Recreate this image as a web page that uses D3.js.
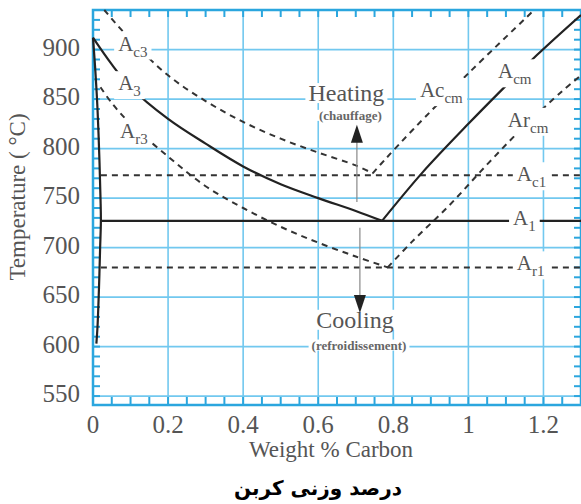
<!DOCTYPE html>
<html>
<head>
<meta charset="utf-8">
<script src="https://cdn.jsdelivr.net/npm/d3@7"></script>
<style>
  html, body { margin: 0; padding: 0; background: #fff; }
  svg { display: block; }
  text { font-family: "Liberation Serif", "Times New Roman", serif; fill: #555; }
</style>
</head>
<body>
<div id="chart"></div>
<script>
"use strict";

// --- data (weight % carbon, temperature in C) ---
const xTicks = [0, 0.2, 0.4, 0.6, 0.8, 1, 1.2]
const yTicks = [550, 600, 650, 700, 750, 800, 850, 900]

const alphaLine = [[0, 912], [0.006, 880], [0.012, 840], [0.017, 790], [0.02, 750],
  [0.021, 727], [0.019, 700], [0.016, 660], [0.012, 620], [0.009, 603]]
const a3Line = [[0, 912], [0.05, 885], [0.1, 862], [0.2, 830], [0.3, 805], [0.4, 782],
  [0.5, 764], [0.6, 750], [0.7, 737], [0.77, 727]]
const acmLine = [[0.77, 727], [0.878, 776], [1.0, 825], [1.075, 854], [1.184, 895], [1.3, 935]]
const a1Line = [[0.021, 727], [1.3, 727]]

const ac3Line = [[0.03, 940], [0.1, 910], [0.2, 874], [0.3, 848], [0.4, 827], [0.5, 810],
  [0.6, 796], [0.7, 783], [0.745, 775]]
const accmLine = [[0.745, 775], [0.778, 789], [0.852, 819], [1.0, 876], [1.156, 933], [1.175, 940]]
const ar3Line = [[0.02, 862], [0.05, 846], [0.1, 825], [0.2, 792], [0.3, 762], [0.4, 740],
  [0.5, 721], [0.6, 705], [0.7, 691], [0.785, 680]]
const arcmLine = [[0.785, 680], [0.85, 706], [0.95, 743], [1.05, 784], [1.15, 823],
  [1.25, 858], [1.3, 874]]
const ac1Line = [[0.021, 773], [1.3, 773]]
const ar1Line = [[0.021, 680], [1.3, 680]]

const solidLines = [alphaLine, a3Line, acmLine, a1Line]
const dashedLines = [ac3Line, accmLine, ar3Line, arcmLine, ac1Line, ar1Line]

// labels: main text, subscript, x (% C), baseline (C)
const curveLabels = [
  { main: 'A', sub: 'c3', x: 0.067, t: 899 },
  { main: 'A', sub: '3', x: 0.067, t: 859 },
  { main: 'A', sub: 'r3', x: 0.072, t: 811 },
  { main: 'Ac', sub: 'cm', x: 0.871, t: 852 },
  { main: 'A', sub: 'cm', x: 1.079, t: 871 },
  { main: 'Ar', sub: 'cm', x: 1.105, t: 822 },
  { main: 'A', sub: 'c1', x: 1.129, t: 767 },
  { main: 'A', sub: '1', x: 1.119, t: 723 },
  { main: 'A', sub: 'r1', x: 1.129, t: 677 },
]

// arrow: from = tail temperature, to = tip temperature
const arrowNotes = [
  { text: 'Heating', note: '(chauffage)', x: 0.675, t: 848, tNote: 829, ax: 0.703, from: 746, to: 824 },
  { text: 'Cooling', note: '(refroidissement)', x: 0.698, t: 619, tNote: 597, ax: 0.711, from: 720, to: 634 },
]

const d = {
  WIDTH: 581,
  HEIGHT: 504,
  LEFT: 93,
  RIGHT: 581,
  TOP: 10,
  BOTTOM: 405,
  GRID: '#72c8ef',
  FRAME: '#2ba6de',
  INK: '#222',
}

const svg = d3.select('#chart')
  .append('svg')
    .attr('width', d.WIDTH)
    .attr('height', d.HEIGHT)

const x = d3.scaleLinear().domain([0, 1.3]).range([d.LEFT, d.RIGHT])
const y = d3.scaleLinear().domain([541, 940]).range([d.BOTTOM, d.TOP])

// grid
const grid = svg.append('g')
grid.selectAll('line.h')
  .data(yTicks)
  .enter().append('line')
    .attr('x1', d.LEFT).attr('x2', d.RIGHT)
    .attr('y1', v => y(v)).attr('y2', v => y(v))
    .attr('stroke', d.GRID).attr('stroke-width', 1.6)
grid.selectAll('line.v')
  .data(xTicks.filter(v => v > 0))
  .enter().append('line')
    .attr('y1', d.TOP).attr('y2', d.BOTTOM)
    .attr('x1', v => x(v)).attr('x2', v => x(v))
    .attr('stroke', d.GRID).attr('stroke-width', 1.6)

// minor ticks, inward, on all four sides
const minorX = d3.range(0.05, 1.3, 0.05)
const minorY = d3.range(550, 940, 10)
const ticks = svg.append('g')
  .attr('stroke', d.FRAME)
  .attr('stroke-width', 2)

ticks.selectAll('line.t')
  .data(minorX)
  .enter().append('line')
    .attr('x1', v => x(v)).attr('x2', v => x(v))
    .attr('y1', d.TOP).attr('y2', d.TOP + 7)
ticks.selectAll('line.b')
  .data(minorX)
  .enter().append('line')
    .attr('x1', v => x(v)).attr('x2', v => x(v))
    .attr('y1', d.BOTTOM).attr('y2', d.BOTTOM - 8)
ticks.selectAll('line.l')
  .data(minorY)
  .enter().append('line')
    .attr('y1', v => y(v)).attr('y2', v => y(v))
    .attr('x1', d.LEFT).attr('x2', d.LEFT + 7)
ticks.selectAll('line.r')
  .data(minorY)
  .enter().append('line')
    .attr('y1', v => y(v)).attr('y2', v => y(v))
    .attr('x1', d.RIGHT).attr('x2', d.RIGHT - 7)

svg.append('rect')
  .attr('x', d.LEFT).attr('y', d.TOP)
  .attr('width', d.RIGHT - d.LEFT).attr('height', d.BOTTOM - d.TOP)
  .attr('fill', 'none')
  .attr('stroke', d.FRAME)
  .attr('stroke-width', 2.5)

// curves
const line = d3.line()
  .x(p => x(p[0]))
  .y(p => y(p[1]))
  .curve(d3.curveCatmullRom.alpha(0.5))

svg.append('g')
  .selectAll('path')
  .data(dashedLines)
  .enter().append('path')
    .attr('d', line)
    .attr('fill', 'none')
    .attr('stroke', '#333')
    .attr('stroke-width', 2)
    .attr('stroke-dasharray', '6,5')

svg.append('g')
  .selectAll('path')
  .data(solidLines)
  .enter().append('path')
    .attr('d', line)
    .attr('fill', 'none')
    .attr('stroke', d.INK)
    .attr('stroke-width', 2.2)

// white box behind a text so grid and curves break around it
function mask(sel, padX, padY) {
  const b = sel.node().getBBox()
  sel.node().parentNode.insertBefore(
    document.createElementNS('http://www.w3.org/2000/svg', 'rect'), sel.node())
  d3.select(sel.node().previousSibling)
    .attr('x', b.x - padX).attr('y', b.y - padY)
    .attr('width', b.width + 2 * padX).attr('height', b.height + 2 * padY)
    .attr('fill', '#fff')
}

// curve labels
const labelsG = svg.append('g')
curveLabels.forEach(l => {
  const t = labelsG.append('text')
    .attr('x', x(l.x))
    .attr('y', y(l.t))
    .style('font-size', '21px')
  t.append('tspan').text(l.main)
  t.append('tspan')
    .attr('dy', 6)
    .style('font-size', '15px')
    .text(l.sub)
  mask(t, 4, 0)
})

// heating / cooling arrows
arrowNotes.forEach(n => {
  const ax = x(n.ax)
  const dir = n.to > n.from ? 1 : -1   // +1: tip points up, base sits below it

  const t = svg.append('text')
    .attr('x', x(n.x))
    .attr('y', y(n.t))
    .attr('text-anchor', 'middle')
    .style('font-size', '24px')
    .text(n.text)
  mask(t, 3, -3)

  const s = svg.append('text')
    .attr('x', x(n.x) + 4)
    .attr('y', y(n.tNote))
    .attr('text-anchor', 'middle')
    .style('font-size', '13px')
    .style('font-weight', 'bold')
    .style('fill', '#666')
    .text(n.note)
  mask(s, 3, -2)

  svg.append('line')
    .attr('x1', ax).attr('x2', ax)
    .attr('y1', y(n.from)).attr('y2', y(n.to) + dir * 16)
    .attr('stroke', '#888')
    .attr('stroke-width', 1.2)

  svg.append('path')
    .attr('d', `M${ax},${y(n.to)} L${ax - 6},${y(n.to) + dir * 18} L${ax + 6},${y(n.to) + dir * 18} Z`)
    .attr('fill', d.INK)
})

// axis labels
svg.append('g')
  .selectAll('text')
  .data(yTicks)
  .enter().append('text')
    .attr('x', 80)
    .attr('y', v => y(v) + 6)
    .attr('text-anchor', 'end')
    .style('font-size', '25px')
    .text(v => v)

svg.append('g')
  .selectAll('text')
  .data(xTicks)
  .enter().append('text')
    .attr('x', v => x(v))
    .attr('y', 433)
    .attr('text-anchor', 'middle')
    .style('font-size', '25px')
    .text(v => String(v))

svg.append('text')
  .attr('transform', 'translate(25,197) rotate(-90)')
  .attr('text-anchor', 'middle')
  .style('font-size', '23px')
  .text('Temperature ( °C)')

svg.append('text')
  .attr('x', 331)
  .attr('y', 457)
  .attr('text-anchor', 'middle')
  .style('font-size', '23px')
  .text('Weight % Carbon')

svg.append('text')
  .attr('x', 318)
  .attr('y', 495)
  .attr('text-anchor', 'middle')
  .attr('direction', 'rtl')
  .style('font-family', '"DejaVu Sans", sans-serif')
  .style('font-size', '20px')
  .style('font-weight', 'bold')
  .style('fill', '#000')
  .text('درصد وزنی کربن')
</script>
</body>
</html>
